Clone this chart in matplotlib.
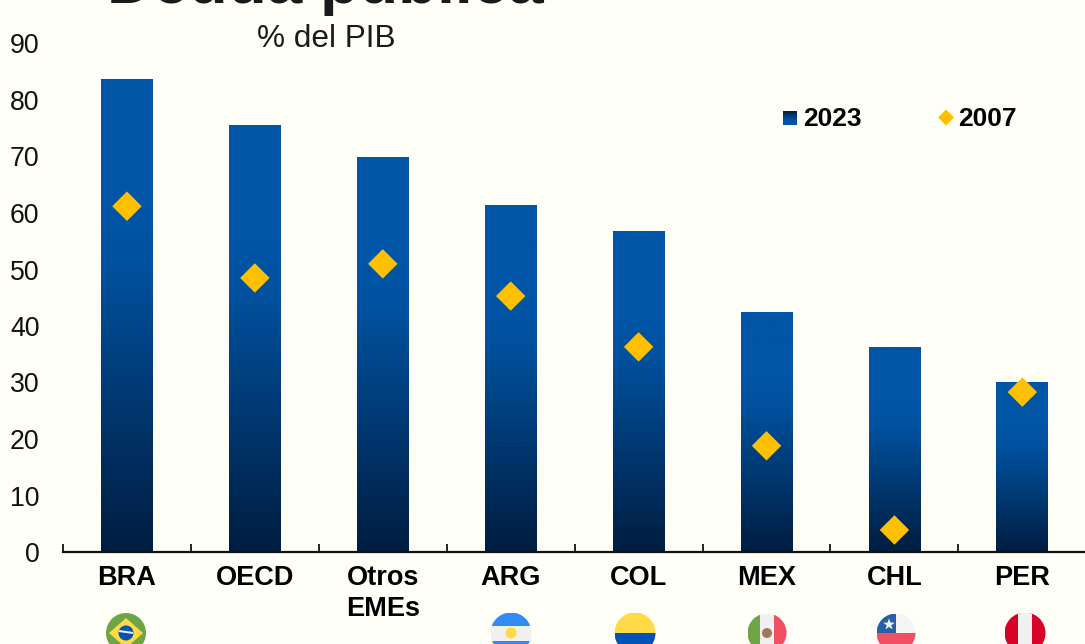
import numpy as np
import matplotlib
matplotlib.use("Agg")
import matplotlib.pyplot as plt
from matplotlib.colors import LinearSegmentedColormap
from matplotlib.patches import Circle, Rectangle, Polygon, Ellipse

categories = ["BRA", "OECD", "Otros\nEMEs", "ARG", "COL", "MEX", "CHL", "PER"]
values_2023 = [83.7, 75.6, 69.9, 61.4, 56.8, 42.5, 36.3, 30.1]
values_2007 = [61.2, 48.5, 51.0, 45.3, 36.3, 18.8, 3.9, 28.3]
y_ticks = list(range(0, 100, 10))
flag_codes = ["BRA", None, None, "ARG", "COL", "MEX", "CHL", "PER"]

BG = "#FFFFF8"
plt.rcParams["font.family"] = ["Liberation Sans", "DejaVu Sans"]
W, H = 1085, 644
fig = plt.figure(figsize=(W / 100, H / 100), dpi=100, facecolor=BG)
ax = fig.add_axes([63 / W, 1 - 552 / H, (W - 63) / W, (552 - 43.5) / H], facecolor=BG)

cmap = LinearSegmentedColormap.from_list(
    "bar", [(0, "#001D40"), (0.62, "#0052A0"), (0.72, "#0055A6"), (1, "#0055A6")])
grad = np.linspace(0, 1, 256).reshape(-1, 1)

x = np.arange(len(categories))
bars = ax.bar(x, values_2023, width=0.405, color="none", edgecolor="none", zorder=2)
for b in bars:
    im = ax.imshow(grad, cmap=cmap, origin="lower", aspect="auto", zorder=2, vmin=0, vmax=1,
                   extent=[b.get_x(), b.get_x() + b.get_width(), 0, b.get_height()])
    im.set_clip_path(b)
ax.scatter(x, values_2007, marker="D", s=225, color="#FFC000", edgecolor="none", zorder=3)

ax.set_xlim(-0.5, 7.49)
ax.set_ylim(0, 90)
ax.set_yticks(y_ticks)
ax.tick_params(axis="y", length=0, labelsize=19.2, pad=17, labelcolor="#111111")
ax.set_xticks(np.arange(0, 8) - 0.5, minor=False)
ax.set_xticklabels([])
ax.tick_params(axis="x", direction="in", length=5.5, width=1.3, color="#111111")
for s in ["left", "right", "top"]:
    ax.spines[s].set_visible(False)
ax.spines["bottom"].set_linewidth(1.6)
ax.spines["bottom"].set_color("#111111")
for lbl in ax.get_yticklabels():
    lbl.set_y(lbl.get_position()[1])
for xi, lab in zip(x, categories):
    ax.annotate(lab, (xi, 0), xytext=(0, -9.5), textcoords="offset points", ha="center", va="top",
                fontsize=19.5, fontweight="bold", color="#000000", linespacing=1.22, annotation_clip=False)

# Overlay in pixel coordinates for title, legend and flags
ov = fig.add_axes([0, 0, 1, 1], facecolor="none")
ov.set_xlim(0, W)
ov.set_ylim(H, 0)
ov.axis("off")
ov.text(325.5, 3, "Deuda pública", ha="center", va="baseline", fontsize=46, fontweight="bold",
        color="#1A1A1A", clip_on=False)
ov.text(326, 47, "% del PIB", ha="center", va="baseline", fontsize=22.7, color="#1A1A1A")

# Legend
ov.imshow(grad, cmap=cmap, origin="upper", aspect="auto", extent=[783, 797, 124.5, 110.5], vmin=0, vmax=1)
ov.set_xlim(0, W)
ov.set_ylim(H, 0)
ov.text(803, 126, "2023", fontsize=19, fontweight="bold", color="#000000", va="baseline")
ov.add_patch(Polygon([[946, 109.5], [954, 117.5], [946, 125.5], [938, 117.5]], closed=True, color="#FFC000", lw=0))
ov.text(958.5, 126, "2007", fontsize=19, fontweight="bold", color="#000000", va="baseline")


def draw_flag(code, cx, cy, r):
    clip = Circle((cx, cy), r, transform=ov.transData)
    items = []
    def rect(x0, y0, x1, y1, c):
        items.append(Rectangle((x0, y0), x1 - x0, y1 - y0, color=c, lw=0))
    if code == "BRA":
        rect(cx - r, cy - r, cx + r, cy + r, "#6DA544")
        items.append(Polygon([[cx, cy - 15], [cx + 17, cy], [cx, cy + 15], [cx - 17, cy]], color="#FFDA44", lw=0))
        items.append(Circle((cx, cy), 7.5, color="#0052B4", lw=0))
        items.append(Rectangle((cx - 7, cy - 2), 14, 2, color="#F0F0F0", lw=0, angle=8, rotation_point="center"))
    elif code == "ARG":
        rect(cx - r, cy - r, cx + r, cy + r, "#F0F0F0")
        rect(cx - r, cy - r, cx + r, cy - r + 13, "#338AF3")
        rect(cx - r, cy + r - 13, cx + r, cy + r, "#338AF3")
        items.append(Circle((cx, cy), 5.5, color="#FFDA44", lw=0))
    elif code == "COL":
        rect(cx - r, cy - r, cx + r, cy, "#FFDA44")
        rect(cx - r, cy, cx + r, cy + r, "#0052B4")
    elif code == "MEX":
        rect(cx - r, cy - r, cx + r, cy + r, "#F0F0F0")
        rect(cx - r, cy - r, cx - 7, cy + r, "#6DA544")
        rect(cx + 7, cy - r, cx + r, cy + r, "#F14F62")
        items.append(Circle((cx, cy), 5, color="#A2785A", lw=0))
    elif code == "CHL":
        rect(cx - r, cy - r, cx + r, cy, "#F5F5F8")
        rect(cx - r, cy, cx + r, cy + r, "#F14F62")
        rect(cx - r, cy - r, cx, cy, "#2A5FA5")
        angles = np.deg2rad(np.arange(0, 360, 36) - 90)
        radii = np.tile([6, 2.4], 5)
        pts = np.c_[cx - 7 + radii * np.cos(angles), cy - 8.5 + radii * np.sin(angles)]
        items.append(Polygon(pts, color="#F5F5F8", lw=0))
    elif code == "PER":
        rect(cx - r, cy - r, cx + r, cy + r, "#D80027")
        rect(cx - 7, cy - r, cx + 7, cy + r, "#F0F0F0")
    for it in items:
        ov.add_patch(it)
        it.set_clip_path(clip)


flag_pos = {"BRA": (126, 633, 20), "ARG": (511, 633, 20.5), "COL": (635, 633, 20.5),
            "MEX": (767, 633, 19.5), "CHL": (896, 633, 19.5), "PER": (1025, 633, 20.5)}
for code in flag_codes:
    if code:
        draw_flag(code, *flag_pos[code])

fig.savefig("out.png", dpi=100, facecolor=BG)
